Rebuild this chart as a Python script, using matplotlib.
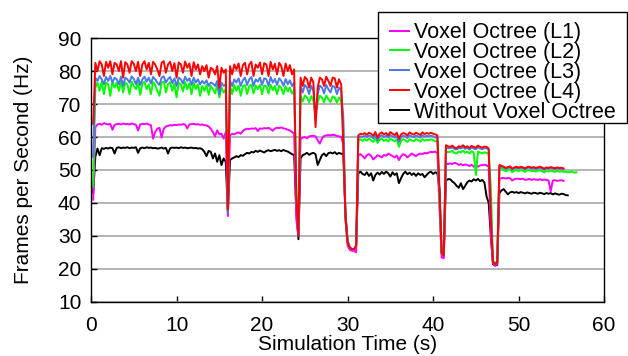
import matplotlib
matplotlib.use("Agg")
import matplotlib.pyplot as plt
from matplotlib.patches import Rectangle
import numpy as np

nan = np.nan

# frame rate per level, sampled every 0.25 s (one row = 2 s)
fps_l1 = [
    nan, 41, 63, 63.8, 64, 63.7, 64.2, 64,
    63.8, 64, 62.2, 63.7, 63.9, 64, 63.8, 64.1,
    63.9, 64, 63.8, 64.1, 63.9, 63.7, 62, 63.8,
    64, 63.9, 64.1, 63.8, 63.6, 59.5, 61.5, 62.5,
    62.8, 59.8, 62.5, 63.2, 63.4, 63.6, 63.5, 63.7,
    63.6, 63.8, 63.7, 63.9, 63.8, 62.6, 63.8, 63.9,
    64, 63.8, 63.9, 63.7, 63.8, 63.6, 63.5, 63.2,
    62.5, 61.5, 60.2, 62, 60.8, 61, 59.5, 61.5,
    36, 60.5, 61, 60.8, 61.2, 61.4, 61, 61.8,
    62.3, 62.5, 62.4, 62.6, 62.5, 62.7, 61.8, 62.6,
    62.5, 62.7, 62.6, 62.8, 62.4, 61.9, 62.6, 62.8,
    62.7, 62.9, 62.6, 62.5, 62.2, 62, 61.5, 61,
    35, 30, 59.5, 59.8, 60, 59.6, 60.2, 60.3,
    60.4, 60.2, 59, 58, 59.5, 60.3, 60.5, 60.6,
    60.5, 60.7, 60.6, 60.3, 60.2, 60, 58, 35,
    27, 25.8, 25.5, 25.5, 25, 54.5, 54.8, 54.2,
    53.5, 54.5, 54.8, 54.3, 53.2, 53.8, 54.5, 54.2,
    53.8, 54.6, 54.3, 55, 54.6, 54.2, 53.8, 54.4,
    53, 54.2, 54.8, 54.5, 53.8, 54.4, 55, 54.6,
    54.2, 54.7, 55, 54.8, 55.2, 55, 55.3, 55.5,
    55.4, 55.6, 55, 38, 23.5, 23.2, 52, 51.8,
    52, 51.8, 52.2, 52, 51.5, 51.8, 51.4, 51.7,
    51.5, 51.2, 51.6, 51, 51.3, 51, 51.4, 51.5,
    51.6, 51.4, 51, 30, 21.8, 21, 21.5, 47.3,
    47.5, 47.6, 47.4, 47.6, 47.5, 46.8, 47.2, 47.4,
    47.3, 47.2, 47.4, 47, 47.1, 47.3, 47, 47.2,
    47.1, 47, 47.2, 46.9, 47.1, 47, 46.8, 43.5,
    46.8, 46.9, 46.7, 46.8, 46.9, 46.7, nan, nan,
    nan, nan, nan, nan, nan, nan, nan, nan,
]

fps_l2 = [
    nan, 45, 75, 76.5, 74, 76.8, 73, 76.5,
    76, 72.5, 76.8, 75, 76.5, 74, 76.8, 73.5,
    76.5, 76, 73, 76.8, 75.5, 74.5, 76.6, 72.8,
    76.3, 76.8, 74.5, 76, 73, 76.7, 75.8, 74,
    72.5, 76.5, 76.8, 73.5, 76, 76.6, 74, 76.2,
    72, 76.5, 76, 73.8, 76.7, 74.5, 76.3, 73,
    76.5, 74.5, 76, 72.5, 75.5, 74, 75.8, 72.8,
    75.5, 74.5, 73.2, 75.8, 72, 75, 73.5, 74.5,
    37.5, 75.5, 73, 75.8, 74, 75.6, 72.5, 75.4,
    75.8, 73, 75.5, 75.9, 73.2, 75.6, 74.5, 75.8,
    73, 75.6, 75.4, 73.2, 75.9, 74.2, 75.5, 73,
    75.6, 74.8, 73, 75.4, 73.8, 75, 73.2, 74.2,
    45, 31, 72.5, 70.8, 72.6, 72, 70.5, 72.4,
    71, 67, 70.6, 72.5, 72, 70.5, 72.6, 71.5,
    70.6, 72.3, 72, 70.4, 72, 71, 63, 35,
    28, 26.5, 26, 26, 27, 59, 59.3, 58.8,
    59.4, 58.9, 59.5, 59, 58.5, 59.6, 58.2, 59.2,
    59.5, 58.8, 59.3, 58.6, 59.5, 59.1, 58.7, 59.3,
    57, 58.8, 59.4, 59, 58.5, 59.3, 59, 58.7,
    59.4, 59.1, 58.6, 59.4, 58.9, 59.2, 59, 59.3,
    59.1, 58.7, 58.8, 40, 25, 24.2, 55.6, 55.4,
    55.5, 55.8, 55.1, 55, 55.6, 55.3, 55.9, 55.2,
    55.6, 55, 55.7, 55.3, 48.5, 55.6, 55.3, 55,
    55.4, 55.2, 54.8, 45, 22.5, 21.8, 22.3, 50.5,
    50.5, 50, 49.6, 49.9, 50.2, 49.3, 49.8, 50,
    49.6, 50, 49.8, 49.4, 49.9, 50, 49.6, 49.8,
    49.5, 49.8, 49.9, 49.6, 49.3, 49.7, 49.5, 49.8,
    49.6, 49.4, 49.7, 49.5, 49.6, 49.4, 49.5, 49.3,
    49.4, 49.5, 49.2, 49.3, nan, nan, nan, nan,
]

fps_l3 = [
    nan, 54, 78, 77, 78.5, 77.5, 76, 78.2,
    77, 78.5, 76.5, 78, 77.5, 76, 78.3, 75.5,
    78, 77.5, 76.5, 78.4, 77.6, 76, 78, 75.8,
    77.5, 78.3, 76.8, 78, 76.2, 78.2, 77.5, 76.5,
    75.8, 78, 78.4, 76.5, 77.6, 78.2, 76.3, 77.8,
    75.5, 78, 77.5, 76.2, 78.3, 77, 77.8, 75.8,
    78, 76.5, 77.5, 76, 77, 76.2, 77.2, 75.5,
    76.5, 76.2, 75.5, 77, 73, 76.5, 75.5, 76,
    37, 77, 75.5, 77.5, 76.5, 77.8, 75.5, 77.2,
    78, 75.8, 77.5, 78.2, 75.5, 77.5, 76.8, 78,
    75.8, 77.8, 77.5, 75.5, 78.2, 76.5, 77.6, 75.8,
    77.8, 77, 75.5, 77.6, 76, 77.2, 75.5, 76.5,
    40, 30, 75.5, 73.5, 75.8, 75, 73, 75.5,
    74, 65, 73, 75.6, 75, 73.2, 75.8, 74.5,
    73.5, 75.5, 75.2, 73, 75, 74, 66, 36,
    28, 26.5, 26, 26, 27, 59.8, 60.2, 60,
    60.4, 60, 60.5, 60.2, 59.6, 60.6, 59, 60.2,
    60.5, 60, 60.4, 59.8, 60.6, 60.2, 59.8, 60.4,
    58.5, 60, 60.4, 60.2, 59.7, 60.5, 60.2, 59.9,
    60.4, 60.2, 59.8, 60.5, 60.1, 60.4, 60.2, 60.4,
    60.2, 59.8, 60, 42, 25, 24.2, 56.8, 56.6,
    56.6, 56.9, 56.3, 56.2, 56.7, 56.5, 57, 56.4,
    56.7, 56.2, 56.8, 56.5, 56.3, 56.9, 56.5, 56.3,
    56.6, 56.6, 56.2, 38, 22.2, 21.5, 22, 51,
    51, 50.7, 50.3, 50.6, 50.8, 50.1, 50.5, 50.7,
    50.4, 50.7, 50.5, 50.2, 50.6, 50.7, 50.4, 50.6,
    50.3, 50.5, 50.7, 50.4, 50.1, 50.5, 50.3, 50.6,
    50.4, 50.2, 50.5, 50.3, 50.4, 50.2, nan, nan,
    nan, nan, nan, nan, nan, nan, nan, nan,
]

fps_l4 = [
    nan, 64, 82.5, 80, 83, 82, 78.5, 82.8,
    81, 83, 79, 82.5, 82, 80, 83, 78,
    82.7, 82, 79.5, 83, 82.2, 80, 82.8, 78.5,
    82, 83, 80.5, 82.5, 79, 82.8, 82, 80.5,
    78.5, 82.5, 83, 79.5, 82, 82.8, 80, 82.4,
    78, 82.6, 82, 79.5, 82.9, 81, 82.3, 78.5,
    82.7, 80.5, 82, 79, 81.5, 80, 81.8, 78,
    81, 80.5, 79, 81.5, 75, 81, 79.5, 80.5,
    38, 81.5, 79, 82, 80.5, 82.3, 78.5, 81.8,
    82.5, 79, 82, 82.8, 78.5, 82, 81, 82.6,
    79, 82.4, 82, 78.5, 82.8, 80.5, 82.2, 79,
    82.5, 81.5, 78.5, 82.3, 80, 81.8, 79, 80.5,
    42, 30, 78, 75.5, 78.2, 77.5, 75, 78,
    76.5, 63, 75, 78, 77.5, 75.5, 78.3, 77,
    75.5, 78, 77.8, 75, 77.5, 76, 57, 36,
    28, 26.5, 26, 26, 27, 60.5, 61, 60.8,
    61.2, 60.7, 61.3, 61, 60.4, 61.5, 59.8, 61,
    61.4, 60.8, 61.2, 60.5, 61.5, 61, 60.6, 61.3,
    59.5, 60.8, 61.2, 61, 60.5, 61.4, 61, 60.7,
    61.3, 61, 60.6, 61.4, 60.9, 61.2, 61, 61.3,
    61, 60.8, 60.5, 44, 25, 24.2, 57.5, 57.2,
    57, 57.4, 56.8, 56.6, 57.2, 57, 57.5, 56.9,
    57.2, 56.7, 57.3, 57, 56.8, 57.4, 57, 56.8,
    57.1, 57, 56.5, 35, 22, 21.5, 22, 51.5,
    51.3, 51, 50.6, 50.9, 51.1, 50.4, 50.8, 51,
    50.7, 51, 50.8, 50.5, 50.9, 51, 50.7, 50.9,
    50.6, 50.8, 51, 50.7, 50.4, 50.8, 50.6, 50.9,
    50.7, 50.5, 50.8, 50.6, 50.7, 50.5, nan, nan,
    nan, nan, nan, nan, nan, nan, nan, nan,
]

fps_none = [
    nan, 43, 54, 56.5, 54.5, 56.6, 56.4, 56.7,
    56.5, 56.8, 56.6, 55, 56.7, 56.9, 56.6, 56.8,
    56.7, 56.9, 56.6, 56.8, 56.7, 56.9, 55.2, 56.6,
    56.8, 56.6, 56.9, 56.7, 56.8, 56.6, 56.7, 56.5,
    56.6, 56.8, 56.5, 56.7, 55, 56.6, 56.8, 56.7,
    56.8, 56.6, 56.9, 56.7, 56.8, 56.6, 56.7, 56.8,
    56.6, 56.7, 56.5, 56.6, 56.3, 55.5, 54.2, 55.8,
    55.5, 53.5, 55, 52.5, 54.5, 51.5, 53.5, 52.5,
    37, 53, 53.5, 53.8, 54.2, 53.9, 54.5, 54.3,
    54.8, 55.2, 55, 55.5, 55.3, 55.8, 55.5, 55.9,
    55.6, 55.3, 55.8, 56, 55.7, 55.9, 56.1, 55.8,
    56, 55.7, 56.1, 55.8, 55.6, 55.2, 54.8, 54.5,
    38, 29, 53.5, 54.5, 54.8, 55.2, 54.6, 55,
    55.2, 54.8, 51.5, 53, 54.5, 55, 54.2, 55.1,
    55.3, 55, 55.4, 54.8, 55.2, 54.9, 55, 37,
    28.5, 26.5, 26, 26, 27, 49, 49.5, 48.8,
    48.5, 49.3, 48.2, 49, 46.8, 48.5, 49.2, 48.6,
    49.4, 48.8, 49.5, 49, 48, 49.3, 48.5, 49,
    46, 47.5, 48.8, 49.5, 48.7, 49.2, 48.5, 49,
    48.2, 49, 48.5, 48.8, 47.8, 48.5, 49.2, 49.5,
    48.8, 49.3, 49, 44, 24.5, 24, 46.8, 47.2,
    47.2, 46.5, 46, 45.2, 44.6, 46, 44.2, 45.2,
    46.3, 46.8, 46.5, 47.2, 46.8, 47.3, 46.6, 47,
    46.2, 42, 40, 30, 21.5, 21, 21.2, 43,
    43.8, 44.2, 43.4, 42.6, 43.2, 43.4, 43.1, 43.3,
    43, 43.3, 43.1, 42.9, 43.2, 43, 42.8, 43.1,
    43, 42.8, 43.1, 42.9, 42.7, 43, 42.8, 43,
    42.6, 42.9, 42.7, 42.5, 42.8, 42.7, 42.4, 42.3,
    nan, nan, nan, nan, nan, nan, nan, nan,
]

STEP = 0.25
n = len(fps_l1)
assert all(len(s) == n for s in [fps_l2, fps_l3, fps_l4, fps_none])
t = np.arange(n) * STEP

plt.rcParams["font.family"] = ["Liberation Sans", "DejaVu Sans"]
plt.rcParams["font.size"] = 15

fig = plt.figure(figsize=(6.28, 3.56), dpi=100)
ax = fig.add_axes([0.145, 0.152, 0.817, 0.741])

lw = 1.4
h_none, = ax.plot(t, fps_none, color="black", lw=lw, label="Without Voxel Octree")
h1, = ax.plot(t, fps_l1, color="#ff00ff", lw=lw, label="Voxel Octree (L1)")
h2, = ax.plot(t, fps_l2, color="#00ff00", lw=lw, label="Voxel Octree (L2)")
h3, = ax.plot(t, fps_l3, color="#4a78e6", lw=lw, label="Voxel Octree (L3)")
h4, = ax.plot(t, fps_l4, color="#ff0000", lw=lw, label="Voxel Octree (L4)")

ax.set_xlim(0, 60)
ax.set_ylim(10, 90)
ax.set_xticks(range(0, 61, 10))
ax.set_yticks(range(10, 91, 10))
ax.tick_params(direction="in", length=4, width=1)
ax.tick_params(axis="x", pad=10)
ax.tick_params(axis="y", pad=7)
ax.grid(axis="y", color="#a8a8a8", lw=1.2)
ax.set_axisbelow(True)
for s in ax.spines.values():
    s.set_color("black")
    s.set_linewidth(1)

ax.set_xlabel("Simulation Time (s)", labelpad=0)
ax.set_ylabel("Frames per Second (Hz)", labelpad=18)

# legend box sticks out past the plot area, so draw it at figure level
box = Rectangle((0.602, 0.655), 0.396, 0.311, transform=fig.transFigure,
                facecolor="white", edgecolor="black", lw=1, zorder=4)
fig.add_artist(box)
leg = fig.legend(handles=[h1, h2, h3, h4, h_none], loc="upper right",
                 bbox_to_anchor=(0.981, 0.938), borderaxespad=0, borderpad=0,
                 handlelength=0.88, handletextpad=0.25, labelspacing=-0.05,
                 frameon=False, fontsize=15.5)
leg.set_zorder(5)

fig.savefig("out.png", dpi=100)
plt.close(fig)
